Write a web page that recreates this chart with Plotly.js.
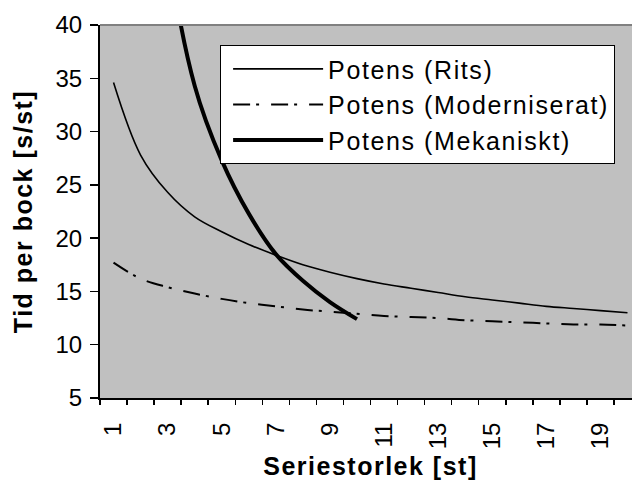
<!DOCTYPE html>
<html><head><meta charset="utf-8">
<script src="https://cdn.plot.ly/plotly-3.0.1.min.js"></script>
<style>
html,body{margin:0;padding:0;overflow:hidden;background:#fff;}
#chart{width:650px;height:480px;}
.xtitle,.ytitle{letter-spacing:1.5px;}
.legendtext{letter-spacing:1.6px;}
</style></head><body><div id="chart"></div>
<script>
// Category axis (Seriestorlek [st])
const categories = [1,2,3,4,5,6,7,8,9,10,11,12,13,14,15,16,17,18,19,20];
// Series values
const ritsValues = [34.6,27.8,24.3,22.0,20.6,19.4,18.4,17.5,16.8,16.2,15.7,15.3,14.9,14.5,14.2,13.9,13.6,13.4,13.2,13.0];
const moderniseratValues = [17.7,16.2,15.4,14.8,14.3,13.9,13.6,13.3,13.1,12.9,12.7,12.6,12.5,12.3,12.2,12.1,12.0,11.9,11.9,11.8];
const mekanisktCategories = [1,2,3,4,5,6,7,8,9,10];
const mekanisktValues = [160,75,47.5,34.3,27.3,22.3,18.5,16.0,14.0,12.4];
// Tick labels
const xTickValues = [1,3,5,7,9,11,13,15,17,19];
const xTickLabels = ['1','3','5','7','9','11','13','15','17','19'];
const yTickValues = [5,10,15,20,25,30,35,40];
const seriesNames = ['Potens (Rits)','Potens (Moderniserat)','Potens (Mekaniskt)'];

const boundaries = categories.map(c => c - 0.5).concat([categories[categories.length-1] + 0.5]);
const xRange = [categories[0] - 0.5, categories[categories.length-1] + 0.5];
const tickFont = {family:'Liberation Sans, Arial, sans-serif', size:24, color:'#000'};

const traces = [
  {x: categories, y: ritsValues, name: seriesNames[0], type:'scatter', mode:'lines',
   line:{color:'#000', width:1.6, shape:'spline'}},
  {x: categories, y: moderniseratValues, name: seriesNames[1], type:'scatter', mode:'lines',
   line:{color:'#000', width:2, shape:'spline', dash:'17px,6px,3px,12px'}},
  {x: mekanisktCategories, y: mekanisktValues, name: seriesNames[2], type:'scatter', mode:'lines',
   line:{color:'#000', width:4, shape:'spline'}},
  {x: [xRange[0]], y: [0], xaxis:'x2', yaxis:'y', showlegend:false, hoverinfo:'skip',
   mode:'markers', marker:{opacity:0}}
];

const layout = {
  width: 650, height: 480,
  margin: {l:100, r:9, t:25, b:82},
  paper_bgcolor:'#fff', plot_bgcolor:'#c0c0c0',
  showlegend: true,
  legend: {x:0.222, y:0.946, xanchor:'left', yanchor:'top',
    bgcolor:'#fff', bordercolor:'#000', borderwidth:1, indentation:7,
    font:{family:'Liberation Sans, Arial, sans-serif', size:25, color:'#000'},
    itemwidth: 90, traceorder:'normal'},
  xaxis: {range: xRange, tickmode:'array', tickvals: xTickValues, ticktext: xTickLabels,
    ticks:'', tickangle:-90, tickfont: tickFont, ticklabelstandoff:13, showgrid:false, zeroline:false,
    showline:true, linecolor:'#000', linewidth:2, fixedrange:true,
    title:{text:'Seriestorlek [st]', standoff:9,
      font:{family:'Liberation Sans, Arial, sans-serif', size:25, color:'#000', weight:'bold'}}},
  xaxis2: {overlaying:'x', anchor:'y', side:'bottom', range: xRange, tickmode:'array',
    tickvals: boundaries, showticklabels:false, ticks:'outside', ticklen:6, tickwidth:1.5,
    tickcolor:'#000', showgrid:false, zeroline:false, showline:false, fixedrange:true},
  yaxis: {range:[5,40], tickmode:'array', tickvals: yTickValues, ticks:'outside', ticklen:8,
    tickwidth:1.5, tickcolor:'#000', tickfont: tickFont, ticklabelstandoff:3, showgrid:false, zeroline:false,
    showline:true, linecolor:'#000', linewidth:2, fixedrange:true,
    title:{text:'Tid per bock [s/st]', standoff:16,
      font:{family:'Liberation Sans, Arial, sans-serif', size:25, color:'#000', weight:'bold'}}},
  shapes: [{type:'line', xref:'paper', yref:'paper', x0:0, x1:1, y0:1, y1:1,
    line:{color:'#808080', width:2}}]
};

Plotly.newPlot('chart', traces, layout, {displayModeBar:false, staticPlot:true});
</script></body></html>
